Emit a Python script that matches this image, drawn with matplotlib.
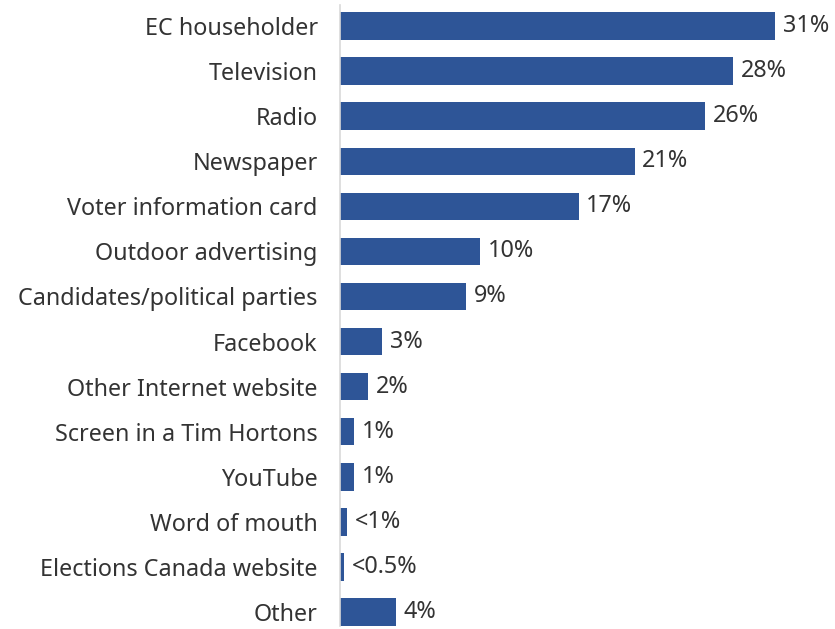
import matplotlib; matplotlib.use('Agg')
import matplotlib.pyplot as plt

SOURCES = ['EC householder', 'Television', 'Radio', 'Newspaper', 'Voter information card',
           'Outdoor advertising', 'Candidates/political parties', 'Facebook',
           'Other Internet website', 'Screen in a Tim Hortons', 'YouTube', 'Word of mouth',
           'Elections Canada website', 'Other']
PCT = [31, 28, 26, 21, 17, 10, 9, 3, 2, 1, 1, 0.5, 0.3, 4]
LABELS = ['31%', '28%', '26%', '21%', '17%', '10%', '9%', '3%', '2%', '1%', '1%',
          '<1%', '<0.5%', '4%']

BAR = '#2e5597'
TXT = '#333333'

plt.rcParams['font.family'] = ['Noto Sans', 'DejaVu Sans']

fig = plt.figure(figsize=(8.35, 6.29), dpi=100)
ax = fig.add_axes([340 / 835, 0, 495 / 835, 1])

y = list(range(len(SOURCES)))
ax.barh(y, PCT, height=0.61, color=BAR)
for yi, v, lab in zip(y, PCT, LABELS):
    ax.text(v + 0.55, yi, lab, va='center', ha='left', fontsize=16.8, color=TXT)

ax.set_xlim(0, 35.28)
ax.set_ylim(13.376, -0.577)
ax.set_yticks(y)
ax.set_yticklabels(SOURCES, fontsize=16.8, color=TXT)
ax.tick_params(axis='y', length=0, pad=16)
ax.set_xticks([])
for s in ['top', 'right', 'bottom']:
    ax.spines[s].set_visible(False)
ax.spines['left'].set_color('#d9d9d9')
ax.spines['left'].set_linewidth(1.2)
ax.spines['left'].set_bounds(13.3, -0.47)

fig.savefig('out.png', dpi=100)
